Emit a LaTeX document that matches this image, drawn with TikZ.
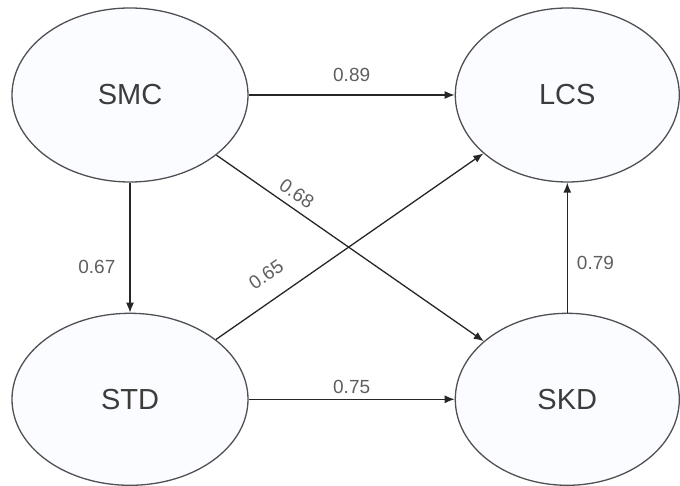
\documentclass[tikz,border=0pt]{standalone}
\usepackage{fontspec}
\setmainfont{Liberation Sans}
\usepackage{tikz}
\usetikzlibrary{shapes.geometric, arrows.meta, positioning}
\definecolor{egray}{RGB}{80,80,84}
\definecolor{efill}{RGB}{251,252,255}
\definecolor{tgray}{RGB}{60,60,60}
\definecolor{lgray}{RGB}{95,95,95}

\begin{document}
\begin{tikzpicture}[node distance={130pt and 206pt},
  lat/.style={
    ellipse, draw=egray, fill=efill, line width=1.3pt,
    minimum width=236pt, minimum height=174pt, inner sep=0pt,
    text=tgray, font=\fontsize{29}{34}\selectfont
  },
  arr/.style={-{Latex[length=10pt,width=8pt]}, line width=1.3pt, draw=black!85},
  lbl/.style={inner sep=1pt, text=lgray, font=\fontsize{19}{22}\selectfont}
]
  \useasboundingbox (0,0) rectangle (680pt,485pt);

  \node[lat] (smc) at (130pt,390pt) {SMC};
  \node[lat, minimum width=224pt, right=of smc] (lcs) {LCS};
  \node[lat, minimum height=172pt, below=of smc] (std) {STD};
  \node[lat, minimum width=224pt, minimum height=172pt, below=of lcs] (skd) {SKD};

  \draw[arr] (smc) -- node[lbl, above=12pt] {0.89} (lcs);
  \draw[arr] (std) -- node[lbl, above=4pt] {0.75} (skd);
  \draw[arr] (smc) -- node[lbl, pos=0.65, left=13pt] {0.67} (std);
  \draw[arr] (skd) -- node[lbl, pos=0.38, right=8pt] {0.79} (lcs);
  \draw[arr] (smc) -- node[lbl, pos=0.27, sloped, above=6pt] {0.68} (skd);
  \draw[arr] (std) -- node[lbl, pos=0.24, sloped, above=16pt] {0.65} (lcs);
\end{tikzpicture}
\end{document}
